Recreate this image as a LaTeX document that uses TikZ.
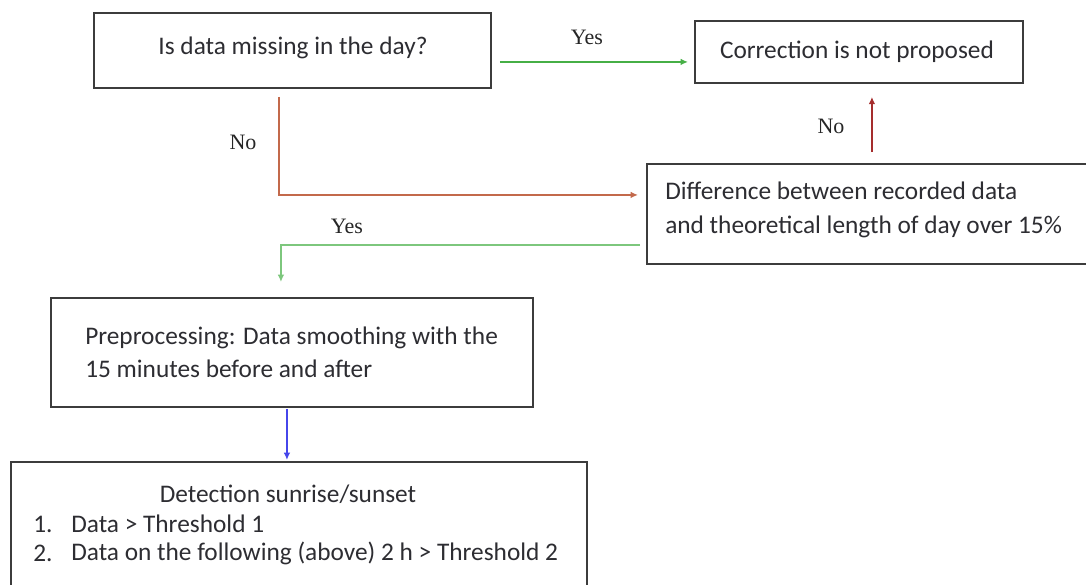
\documentclass[tikz,border=0pt]{standalone}
\usepackage{fontspec}
\setmainfont{Carlito}
\newfontfamily\lblfont{Liberation Serif}
\usetikzlibrary{arrows.meta,calc,shadows}
\definecolor{yesgreen}{RGB}{70,175,70}
\definecolor{nobrown}{RGB}{195,105,75}
\definecolor{nored}{RGB}{165,45,45}
\definecolor{flowblue}{RGB}{70,70,235}
\definecolor{boxline}{RGB}{60,60,60}
\definecolor{txt}{RGB}{45,45,50}
\tikzset{
  box/.style={draw=boxline, line width=1.4pt, fill=white, anchor=north west, inner sep=0pt,
    drop shadow={shadow xshift=0.8pt, shadow yshift=-0.8pt, fill=black!25, opacity=0.6}},
  boxtext/.style={text=txt, font=\fontsize{19}{25}\selectfont, inner sep=0pt},
  lbl/.style={text=black!85, font=\lblfont\fontsize{16.5}{18}\selectfont, inner sep=0pt},
  conn/.style={line width=1.2pt, -{Latex[length=5.5pt,width=5pt]}},
}
\begin{document}
\begin{tikzpicture}[x=0.75pt,y=-0.75pt]
\useasboundingbox (0,0) rectangle (1086,585);
% boxes
\node[box, minimum width=297.75pt, minimum height=56.25pt] (b1) at (93,12) {};
\node[box, minimum width=246pt, minimum height=46.5pt] (b2) at (694,20) {};
\node[box, minimum width=345pt, minimum height=75pt] (b3) at (646,163) {};
\node[box, minimum width=361.5pt, minimum height=81.75pt] (b4) at (50,297) {};
\node[box, minimum width=432pt, minimum height=105pt] (b5) at (10,461) {};
% texts
\node[boxtext] (t1) at (293,48) {Is data missing in the day?};
\node[boxtext] (t2) at (857,52) {Correction is not proposed};
\node[boxtext, anchor=west, align=left] (t3) at (665,210) {Difference between recorded data\\and theoretical length of day over 15\%};
\node[boxtext, anchor=west, align=left] (t4) at (85,352) {Preprocessing: Data smoothing with the\\15 minutes before and after};
\node[boxtext] (t5) at (288,494) {Detection sunrise/sunset};
\node[boxtext, anchor=west] (n1) at (33,524) {1.};
\node[boxtext, anchor=west] (i1) at (71,524) {Data > Threshold 1};
\node[boxtext, anchor=west] (n2) at (33,553) {2.};
\node[boxtext, anchor=west] (i2) at (71,553) {Data on the following (above) 2 h > Threshold 2};
% connectors
\coordinate (ys) at ([shift={(8,11.5)}]b1.east);
\coordinate (ye) at ([shift={(-6,10)}]b2.west);
\draw[conn, yesgreen] (ys) -- (ys -| ye);
\coordinate (ns) at ([shift={(-13.5,8)}]b1.south);
\coordinate (ne) at ([shift={(-8,-19)}]b3.west);
\draw[conn, nobrown] (ns) |- (ne);
\coordinate (rs) at ([shift={(-5,-11)}]b3.north);
\coordinate (re) at ([shift={(8,13)}]b2.south);
\draw[conn, nored] (rs) -- (rs |- re);
\coordinate (gs) at ([shift={(-6,31)}]b3.west);
\coordinate (ge) at ([shift={(-11,-15)}]b4.north);
\draw[conn, yesgreen!70!white] (gs) -| (ge);
\coordinate (bs) at ([shift={(-5,1)}]b4.south);
\coordinate (be) at ([shift={(-12,-1)}]b5.north);
\draw[conn, flowblue] (bs) -- (bs |- be);
% labels
\node[lbl] (l1) at (587,37) {Yes};
\node[lbl] (l2) at (243,142) {No};
\node[lbl] (l3) at (831,126) {No};
\node[lbl] (l4) at (347,226) {Yes};
\end{tikzpicture}
\end{document}
